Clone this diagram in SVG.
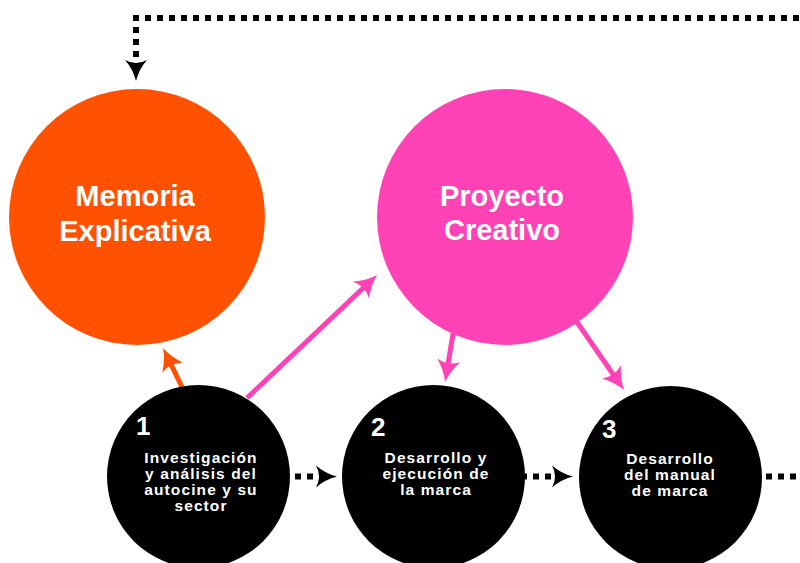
<svg xmlns="http://www.w3.org/2000/svg" width="800" height="563" viewBox="0 0 800 563">
<style>
.dot{fill:none;stroke:#000;stroke-width:6;stroke-dasharray:6 6}
.ln{fill:none;stroke-width:5}
.big{font-family:"Liberation Sans",Arial,sans-serif;font-weight:bold;font-size:29px;fill:#fff;text-anchor:middle}
.sm{font-family:"Liberation Sans",Arial,sans-serif;font-weight:bold;font-size:15.5px;fill:#fff;text-anchor:middle;letter-spacing:1.1px}
.num{font-family:"Liberation Sans",Arial,sans-serif;font-weight:bold;font-size:26px;fill:#fff}
</style>
<defs>
<marker id="ab" markerUnits="userSpaceOnUse" viewBox="-1 -12 24 24" markerWidth="24" markerHeight="24" refX="0" refY="0" orient="auto">
<path d="M0,-11 Q9,-3 21,0 Q9,3 0,11 Q6,0 0,-11 Z" fill="#000"/>
</marker>
<marker id="ao" markerUnits="userSpaceOnUse" viewBox="-11 -13 28 26" markerWidth="28" markerHeight="26" refX="0" refY="0" orient="auto">
<path d="M-9,-11.5 Q2,-3 13,0 Q2,3 -9,11.5 Q-3,0 -9,-11.5 Z" fill="#FF5100"/>
</marker>
<marker id="ap" markerUnits="userSpaceOnUse" viewBox="-11 -13 28 26" markerWidth="28" markerHeight="26" refX="0" refY="0" orient="auto">
<path d="M-9,-11.5 Q2,-3 13,0 Q2,3 -9,11.5 Q-3,0 -9,-11.5 Z" fill="#FF42B6"/>
</marker>
</defs>
<g id="connectors">
<path class="dot" d="M133,18 H800"/>
<path class="dot" d="M136,15 V60" marker-end="url(#ab)"/>
<path class="dot" d="M295,476.5 H316" marker-end="url(#ab)"/>
<path class="dot" d="M521,476.5 H552" marker-end="url(#ab)"/>
<path class="dot" d="M766,476.5 H800"/>
<path class="ln" stroke="#FF5100" d="M182,387 L168.7,359.7" marker-end="url(#ao)"/>
<path class="ln" stroke="#FF42B6" d="M247,398 L367.6,283.9" marker-end="url(#ap)"/>
<path class="ln" stroke="#FF42B6" d="M454,328 L447.2,369.2" marker-end="url(#ap)"/>
<path class="ln" stroke="#FF42B6" d="M570,312 L616.6,379.3" marker-end="url(#ap)"/>
</g>
<g id="memoria">
<circle cx="137" cy="217" r="128" fill="#FF5100"/>
<text class="big" x="135" y="206">Memoria</text>
<text class="big" x="135" y="241">Explicativa</text>
</g>
<g id="proyecto">
<circle cx="505" cy="217" r="128" fill="#FF42B6"/>
<text class="big" x="502" y="206">Proyecto</text>
<text class="big" x="502" y="240">Creativo</text>
</g>
<g id="step1">
<circle cx="198.5" cy="476.5" r="91.5" fill="#000"/>
<text class="num" x="136" y="435">1</text>
<text class="sm" x="201" y="463">Investigación</text>
<text class="sm" x="201" y="479">y análisis del</text>
<text class="sm" x="201" y="495">autocine y su</text>
<text class="sm" x="201" y="511">sector</text>
</g>
<g id="step2">
<circle cx="433.5" cy="476.5" r="91.5" fill="#000"/>
<text class="num" x="371" y="436">2</text>
<text class="sm" x="436" y="463">Desarrollo y</text>
<text class="sm" x="436" y="479">ejecución de</text>
<text class="sm" x="436" y="495">la marca</text>
</g>
<g id="step3">
<circle cx="670.5" cy="477.5" r="91.5" fill="#000"/>
<text class="num" x="602" y="438">3</text>
<text class="sm" x="670" y="464">Desarrollo</text>
<text class="sm" x="670" y="480">del manual</text>
<text class="sm" x="670" y="496">de marca</text>
</g>
</svg>
